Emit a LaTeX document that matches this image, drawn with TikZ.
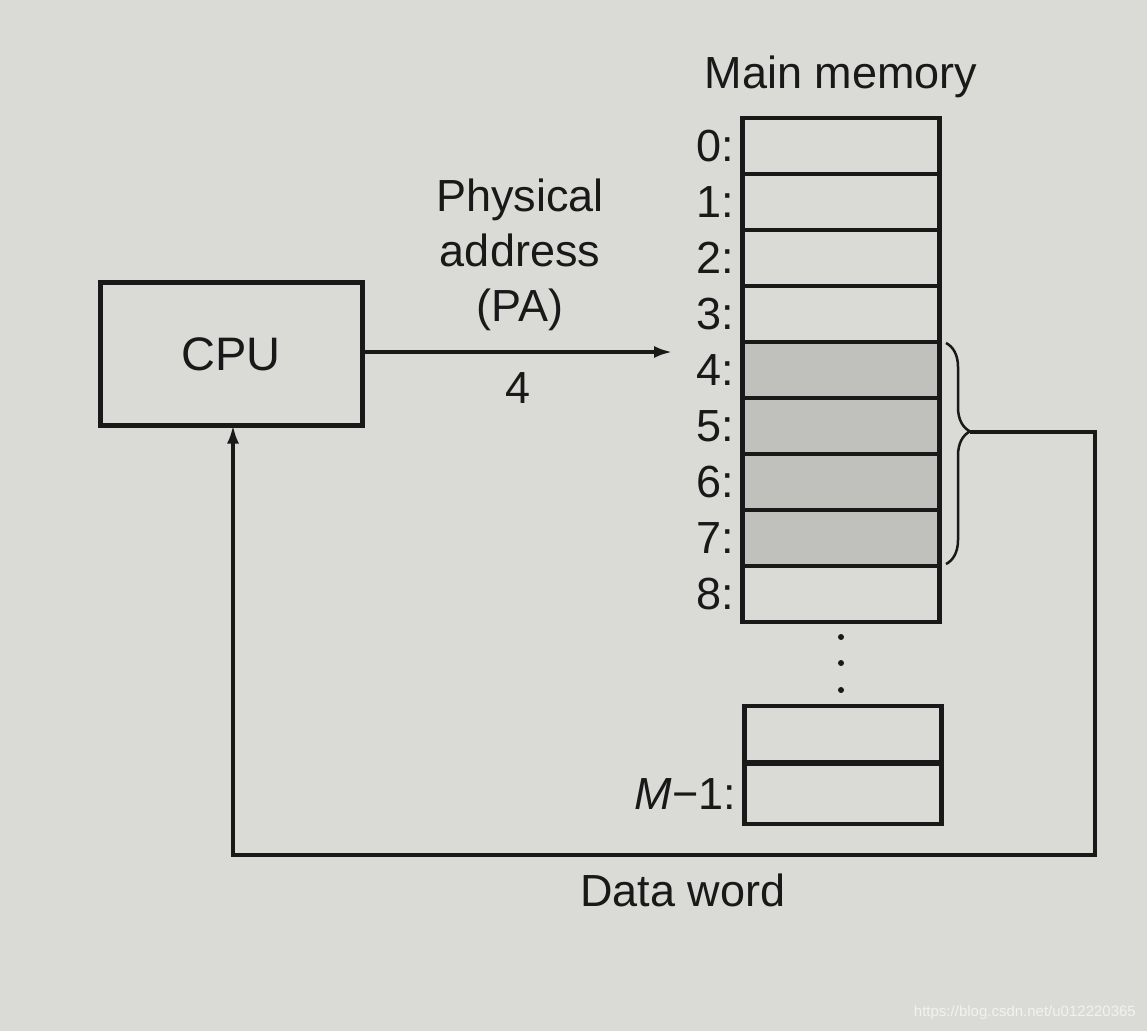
\documentclass[tikz,border=0pt]{standalone}
\usepackage{fontspec}
\setmainfont{Liberation Sans}
\usetikzlibrary{arrows.meta,decorations.pathreplacing}
\definecolor{bg}{RGB}{218,218,215}
\definecolor{shade}{RGB}{192,192,189}
\definecolor{ink}{RGB}{25,25,25}
\definecolor{wm}{RGB}{242,242,242}
\tikzset{
  txt/.style={font=\fontsize{45}{55}\selectfont, text=ink, inner sep=0pt},
  cell/.style={draw=ink, line width=4.5pt, minimum width=197pt, minimum height=56pt, inner sep=0pt, outer sep=0pt},
  shaded/.style={cell, fill=shade},
  cpubox/.style={draw=ink, line width=5pt, minimum width=262pt, minimum height=143pt, inner sep=0pt, outer sep=0pt, font=\fontsize{47}{55}\selectfont, text=ink},
  conn/.style={draw=ink, line width=3.2pt},
  tip/.style={-{Latex[length=18pt,width=12pt]}},
  lbl/.style={txt, anchor=east, xshift=-8pt}
}
\begin{document}
\begin{tikzpicture}[x=1pt,y=-1pt]
\fill[bg] (0,0) rectangle (1147,1031);
\useasboundingbox (0,0) rectangle (1147,1031);

% CPU
\node[cpubox] (cpu) at (231,354) {CPU};

% Main memory title
\node[txt] (title) at (841,77) {Main memory};

% memory cells
\node[cell]   (m0) at (841,146) {};
\node[cell]   (m1) at (841,202) {};
\node[cell]   (m2) at (841,258) {};
\node[cell]   (m3) at (841,314) {};
\node[shaded] (m4) at (841,370) {};
\node[shaded] (m5) at (841,426) {};
\node[shaded] (m6) at (841,482) {};
\node[shaded] (m7) at (841,538) {};
\node[cell]   (m8) at (841,594) {};
\node[cell]   (mx) at (843,734) {};
\node[cell, minimum height=60pt] (mm) at (843,794) {};

% labels
\node[lbl] (l0) at (m0.west) {0:};
\node[lbl] (l1) at (m1.west) {1:};
\node[lbl] (l2) at (m2.west) {2:};
\node[lbl] (l3) at (m3.west) {3:};
\node[lbl] (l4) at (m4.west) {4:};
\node[lbl] (l5) at (m5.west) {5:};
\node[lbl] (l6) at (m6.west) {6:};
\node[lbl] (l7) at (m7.west) {7:};
\node[lbl] (l8) at (m8.west) {8:};
\node[lbl] (lm) at (mm.west) {\textit{M}\kern1pt\textminus 1:};

% dots
\fill[ink] (841,637) circle (3pt);
\fill[ink] (841,663) circle (3pt);
\fill[ink] (841,690) circle (3pt);

% address arrow
\coordinate (pa) at (672,352);
\draw[conn,tip] (cpu.east |- pa) -- (pa);
\node[txt, align=center] (palbl) at (520,255) {Physical\\address\\(PA)};
\node[txt] (four) at (518,388) {4};

% brace
\draw[conn, line width=2.5pt, decorate, decoration={brace, amplitude=24pt, aspect=0.4}] (946,343) -- (946,564);
\coordinate (bt) at (970,432);
\coordinate (r1) at (1095,432);
\coordinate (r2) at (1095,855);
\coordinate (l2c) at (233,855);
\draw[conn,tip] (bt) -- (r1) -- (r2) -- (l2c) -- (l2c |- cpu.south);
\node[txt] (dw) at (683,890) {Data word};

% watermark
\node[font=\fontsize{15}{18}\selectfont, text=wm, anchor=east, inner sep=0pt] (wmk) at (1136,1013) {https://blog.csdn.net/u012220365};
\end{tikzpicture}
\end{document}
